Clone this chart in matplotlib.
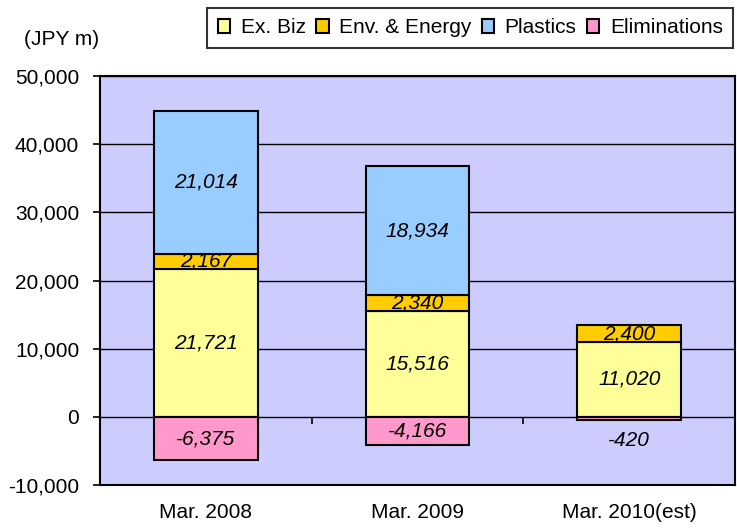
import numpy as np
import matplotlib.pyplot as plt

plt.rcParams['font.family'] = ['Liberation Sans', 'DejaVu Sans']

# Data (JPY m)
categories = ['Mar. 2008', 'Mar. 2009', 'Mar. 2010(est)']
ex_biz = [21721, 15516, 11020]
env_energy = [2167, 2340, 2400]
plastics = [21014, 18934, 0]
eliminations = [-6375, -4166, -420]

col_ex = '#FFFF99'
col_env = '#FFCC00'
col_pla = '#99CCFF'
col_eli = '#FF99CC'

fig = plt.figure(figsize=(7.37, 5.29), dpi=100)
ax = fig.add_axes([0.1357, 0.0832, 0.8616, 0.7731])
ax.set_facecolor('#CCCCFF')

x = np.arange(len(categories))
w = 0.49
kw = dict(width=w, edgecolor='black', linewidth=1.5, zorder=3)

ex_biz = np.array(ex_biz)
env_energy = np.array(env_energy)
plastics = np.array(plastics)
eliminations = np.array(eliminations)

b1 = ax.bar(x, ex_biz, color=col_ex, label='Ex. Biz', **kw)
b2 = ax.bar(x, env_energy, bottom=ex_biz, color=col_env, label='Env. & Energy', **kw)
mask = plastics > 0
b3 = ax.bar(x[mask], plastics[mask], bottom=(ex_biz + env_energy)[mask], color=col_pla,
            label='Plastics', **kw)
b4 = ax.bar(x, eliminations, color=col_eli, label='Eliminations', **kw)

# value labels
lab = dict(ha='center', va='center', fontsize=15, style='italic', zorder=5)
for i in range(len(x)):
    ax.text(x[i], ex_biz[i] / 2, f'{ex_biz[i]:,}', **lab)
    ax.text(x[i], ex_biz[i] + env_energy[i] / 2, f'{env_energy[i]:,}', **lab)
    if plastics[i] > 0:
        ax.text(x[i], ex_biz[i] + env_energy[i] + plastics[i] / 2, f'{plastics[i]:,}', **lab)
    if eliminations[i] < -2000:
        ax.text(x[i], eliminations[i] / 2, f'{eliminations[i]:,}', **lab)
    else:
        ax.text(x[i], -3400, f'{eliminations[i]:,}', **lab)

ax.set_ylim(-10000, 50000)
ax.set_xlim(-0.5, len(x) - 0.5)
ax.set_yticks(np.arange(-10000, 50001, 10000))
ax.set_yticklabels([f'{v:,}' for v in range(-10000, 50001, 10000)], fontsize=15)
ax.yaxis.grid(True, color='black', linewidth=1.0, zorder=0)
ax.set_axisbelow(True)
ax.tick_params(axis='y', length=5, width=1.2, direction='out', pad=10)

ax.set_xticks(x)
ax.set_xticklabels(categories, fontsize=15)
ax.tick_params(axis='x', length=0, pad=13)

# category separator ticks on the zero line
sec = ax.secondary_xaxis(1 / 6)
sec.set_xticks([0.5, 1.5])
sec.set_xticklabels(['', ''])
sec.tick_params(length=5, width=1.2, direction='out')
sec.spines['bottom'].set_visible(False)
sec.spines['top'].set_visible(False)

for s in ax.spines.values():
    s.set_linewidth(1.5)
    s.set_color('black')

fig.text(0.083, 0.925, '(JPY m)', fontsize=15, ha='center', va='center')

leg = fig.legend(handles=[b1, b2, b3, b4], loc='upper right', bbox_to_anchor=(0.995, 0.985),
                 ncol=4, fontsize=15, frameon=True, fancybox=False, edgecolor='black',
                 handlelength=0.6, handleheight=0.6, handletextpad=0.5, columnspacing=0.5,
                 borderpad=0.5, borderaxespad=0)
leg.get_frame().set_linewidth(1.5)

fig.savefig('out.png', dpi=100)
